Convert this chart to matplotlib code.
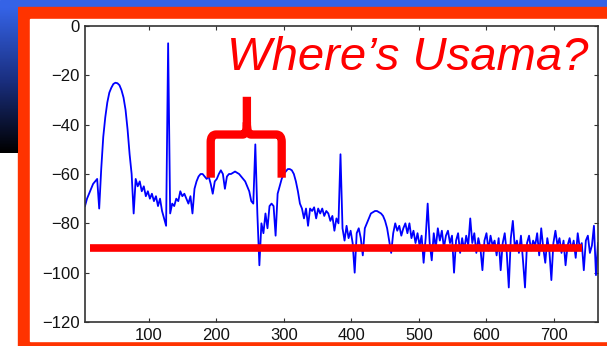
import numpy as np
import matplotlib
matplotlib.use("Agg")
import matplotlib.pyplot as plt
from matplotlib.path import Path
from matplotlib.patches import PathPatch, Rectangle
from matplotlib.colors import LinearSegmentedColormap

# spectrum values (dB), one sample every 3 units starting at 6
spectrum = [
    -73, -70, -68, -66, -64, -63, -62, -74, -58, -45,
    -37, -31, -27, -25, -23.5, -23, -23.2, -24, -26, -29,
    -34, -42, -52, -60, -76, -62, -65, -63, -67, -65,
    -69, -67, -70, -68, -71, -69, -73, -70, -75, -78,
    -81, -7, -76, -72, -73, -70, -71, -67, -69, -68,
    -70, -72, -69, -76, -66, -63, -61, -60, -60, -61,
    -62, -61, -64, -68, -63, -62, -60, -58.5, -60, -66,
    -61, -60, -60, -59.5, -59, -59.5, -60, -61, -62, -63,
    -65, -67, -71, -72, -48, -76, -97, -80, -84, -76,
    -82, -73, -72, -73, -85, -68, -65, -62, -60, -59,
    -58, -58, -58.5, -60, -63, -67, -72, -74, -78, -74,
    -81, -74, -75, -73.5, -78, -74, -76, -74, -77, -75,
    -76, -79, -77, -83, -78, -80, -52, -82, -87, -81,
    -86, -83, -88, -100, -84, -82, -86, -93, -82, -80,
    -78, -76, -75.5, -75, -75, -75.5, -76, -77, -79, -82,
    -87, -92, -84, -80, -83, -81, -85, -82, -80, -84,
    -80, -86, -83, -88, -84, -89, -85, -96, -86, -72,
    -88, -95, -84, -90, -82, -87, -83, -90, -85, -83,
    -88, -85, -100, -87, -84, -92, -86, -91, -85, -89,
    -78, -88, -84, -92, -86, -90, -99, -87, -84, -91,
    -85, -89, -87, -93, -86, -99, -88, -84, -92, -106,
    -86, -79, -90, -87, -92, -85, -95, -106, -88, -85,
    -91, -87, -89, -84, -93, -82, -90, -96, -86, -91,
    -103, -88, -83, -89, -86, -92, -87, -97, -89, -86,
    -91, -87, -94, -84, -90, -88, -99, -87, -85, -92,
    -89, -81, -101, -88,
]
freq = 6 + 3 * np.arange(len(spectrum))

x_ticks = [100, 200, 300, 400, 500, 600, 700]
y_ticks = [0, -20, -40, -60, -80, -100, -120]

noise_floor = -90
floor_span = (14, 742)
brace_left, brace_mid, brace_right = 192, 245.5, 297
brace_bottom, brace_bar, brace_top = -61.5, -44, -28.7

fig = plt.figure(figsize=(6.07, 3.46), dpi=100)

# slide decoration: blue band, left gradient, orange frame
fig.patches.append(Rectangle((0, 1 - 7 / 346), 1, 7 / 346, transform=fig.transFigure,
                             color='#3563E6', zorder=-10))
fig.patches.append(Rectangle((18 / 607, 0), 1, 1 - 7 / 346, transform=fig.transFigure,
                             color='#FF3300', zorder=-10))
fig.patches.append(Rectangle((30 / 607, 5 / 346), 1, 1 - 24 / 346, transform=fig.transFigure,
                             color='white', zorder=-9))
grad_ax = fig.add_axes([0, 1 - 153 / 346, 18 / 607, 146 / 346])
cmap = LinearSegmentedColormap.from_list('slide', ['#3563E6', '#1a2f80', '#000000'])
grad_ax.imshow(np.linspace(0, 1, 100).reshape(-1, 1), aspect='auto', cmap=cmap)
grad_ax.axis('off')

ax = fig.add_axes([85 / 607, 24 / 346, 513 / 607, 296 / 346])
ax.plot(freq, spectrum, color='#0000FF', lw=1.3)
ax.set_xlim(6, 765)
ax.set_ylim(-120, 0)
ax.set_xticks(x_ticks)
ax.set_yticks(y_ticks)
ax.tick_params(direction='in', length=3, top=True, right=True,
               labelsize=12, colors='#333333', pad=4)
for lab in ax.get_xticklabels() + ax.get_yticklabels():
    lab.set_family('Liberation Sans')
    lab.set_color('#111111')
for s in ax.spines.values():
    s.set_color('#333333')
    s.set_linewidth(1.2)

# red noise floor line
ax.plot(floor_span, [noise_floor, noise_floor], color='#FF0000', lw=5.5,
        solid_capstyle='butt', zorder=5)

# red brace
verts = [
    (brace_left, brace_bottom), (brace_left, brace_bar - 3),
    (brace_left, brace_bar), (brace_left + 8, brace_bar),
    (brace_mid - 6, brace_bar),
    (brace_mid, brace_bar), (brace_mid, brace_bar + 5),
    (brace_mid, brace_top),
    (brace_mid, brace_bar + 5), (brace_mid, brace_bar),
    (brace_mid + 6, brace_bar),
    (brace_right - 8, brace_bar),
    (brace_right, brace_bar), (brace_right, brace_bar - 3),
    (brace_right, brace_bottom),
]
codes = [Path.MOVETO, Path.LINETO,
         Path.CURVE3, Path.CURVE3,
         Path.LINETO,
         Path.CURVE3, Path.CURVE3,
         Path.LINETO,
         Path.MOVETO, Path.CURVE3,
         Path.CURVE3,
         Path.LINETO,
         Path.CURVE3, Path.CURVE3,
         Path.LINETO]
ax.add_patch(PathPatch(Path(verts, codes), fill=False, edgecolor='#FF0000',
                       lw=6, capstyle='butt', joinstyle='round', zorder=5))

fig.text(227 / 607, 1 - 70 / 346, 'Where\u2019s Usama?', color='#FF0000',
         fontsize=34, style='italic', family='Liberation Sans', va='baseline')

fig.savefig('out.png', dpi=100)
